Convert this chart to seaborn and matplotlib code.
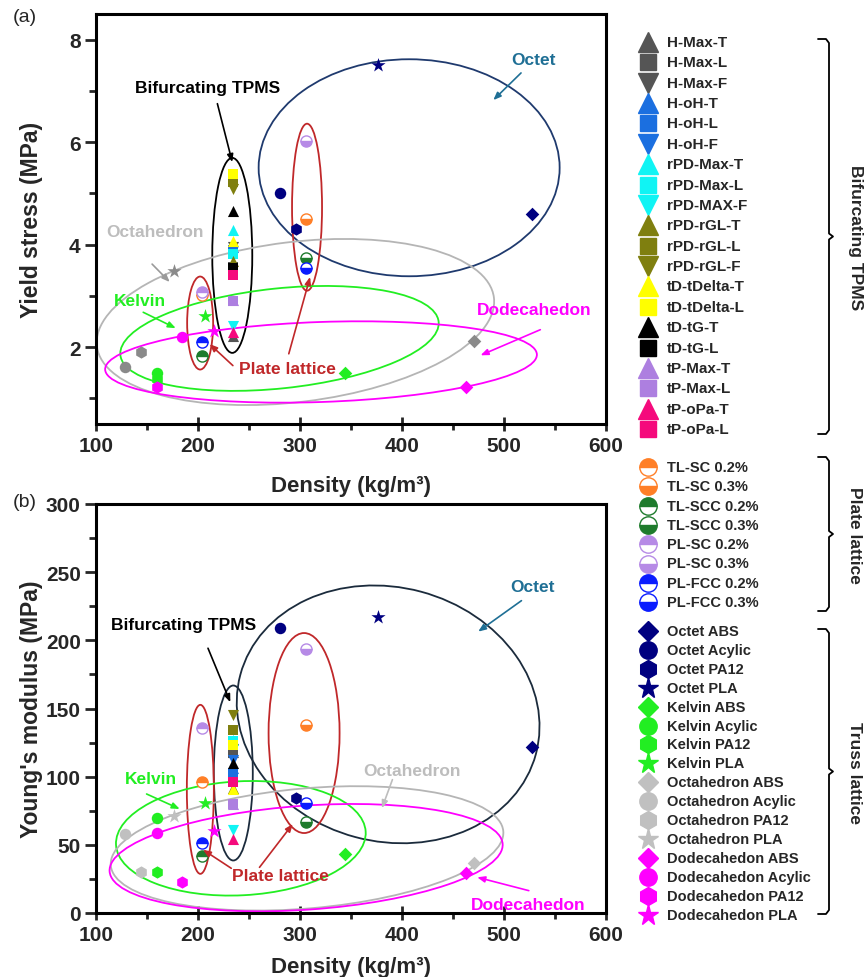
import matplotlib
matplotlib.use("Agg")
import matplotlib.pyplot as plt
import matplotlib.transforms as mtransforms
from matplotlib.patches import Ellipse
from matplotlib.ticker import MultipleLocator
import seaborn as sns

# ---------------- data ----------------
TPMS_LABELS = ["H-Max-T", "H-Max-L", "H-Max-F", "H-oH-T", "H-oH-L", "H-oH-F",
               "rPD-Max-T", "rPD-Max-L", "rPD-MAX-F", "rPD-rGL-T", "rPD-rGL-L",
               "rPD-rGL-F", "tD-tDelta-T", "tD-tDelta-L", "tD-tG-T", "tD-tG-L",
               "tP-Max-T", "tP-Max-L", "tP-oPa-T", "tP-oPa-L"]
TPMS_DENSITY = [234, 234, 234, 234, 234, 234, 234, 234, 234, 234,
                234, 234, 234, 234, 234, 234, 234, 234, 234, 234]
TPMS_YIELD = [2.22, 3.56, 3.95, 3.95, 3.90, 3.87, 4.29, 3.82, 2.41, 3.69,
              5.22, 5.09, 4.08, 5.38, 4.66, 3.54, 2.91, 2.90, 2.29, 3.40]
TPMS_MODULUS = [118, 117, 120, 106, 103, 112, 127, 126, 61, 92,
                134, 145, 91, 123, 110, 80, 80, 80, 54, 96]

PLATE_LABELS = ["TL-SC 0.2%", "TL-SC 0.3%", "TL-SCC 0.2%", "TL-SCC 0.3%",
                "PL-SC 0.2%", "PL-SC 0.3%", "PL-FCC 0.2%", "PL-FCC 0.3%"]
PLATE_DENSITY = [204, 306, 204, 306, 204, 306, 204, 306]
PLATE_YIELD = [3.01, 4.50, 1.82, 3.74, 3.07, 6.03, 2.10, 3.54]
PLATE_MODULUS = [96, 138, 42, 67, 136, 194, 51, 81]

TRUSS_LABELS = ["Octet ABS", "Octet Acylic", "Octet PA12", "Octet PLA",
                "Kelvin ABS", "Kelvin Acylic", "Kelvin PA12", "Kelvin PLA",
                "Octahedron ABS", "Octahedron Acylic", "Octahedron PA12", "Octahedron PLA",
                "Dodecahedon ABS", "Dodecahedon Acylic", "Dodecahedon PA12", "Dodecahedon PLA"]
TRUSS_DENSITY_YS = [527, 280, 296, 376, 344, 160, 160, 207,
                    471, 128, 144, 176, 463, 184, 160, 216]
TRUSS_YIELD = [4.60, 5.00, 4.30, 7.50, 1.50, 1.50, 1.38, 2.60,
               2.11, 1.61, 1.90, 3.49, 1.22, 2.19, 1.22, 2.32]
TRUSS_DENSITY_E = [527, 280, 296, 376, 344, 160, 160, 207,
                   471, 128, 144, 176, 463, 160, 184, 216]
TRUSS_MODULUS = [122, 209, 84, 217, 43, 70, 30, 81,
                 37, 58, 30, 71, 29, 59, 23, 60]

# ---------------- styles ----------------
GREY = "#555555"
BLUE = "#1b6fe0"
CYAN = "#10f4f4"
OLIVE = "#7f7f0f"
YELLOW = "#ffff00"
PURPLE = "#ad7fe0"
PINK = "#f50a7c"
TPMS_COLORS = [GREY, GREY, GREY, BLUE, BLUE, BLUE, CYAN, CYAN, CYAN, OLIVE,
               OLIVE, OLIVE, YELLOW, YELLOW, "black", "black", PURPLE, PURPLE, PINK, PINK]
TPMS_MARKERS = ["^", "s", "v", "^", "s", "v", "^", "s", "v", "^",
                "s", "v", "^", "s", "^", "s", "^", "s", "^", "s"]

PLATE_COLORS = ["#ff7f27", "#ff7f27", "#1e7b2c", "#1e7b2c",
                "#b68ae6", "#b68ae6", "#0a1cff", "#0a1cff"]
PLATE_FILL = ["top", "bottom", "top", "bottom", "top", "bottom", "top", "bottom"]

NAVY = "#000080"
LIME = "#22ee22"
LIGHT = "#c0c0c0"
MAG = "#ff00ff"
TRUSS_COLORS = [NAVY] * 4 + [LIME] * 4 + [LIGHT] * 4 + [MAG] * 4
TRUSS_MARKERS = ["D", "o", "h", "*"] * 4
MARKER_AREA = {"^": 64, "v": 64, "s": 52, "D": 48, "o": 68, "h": 78, "*": 115}

RED = "#c0282a"
TEAL = "#1f6f95"
TEXT_GREY = "#bdbdbd"

# ellipses: centre in data units, width/height in pixels, angle in degrees
RINGS_A = [(407.0, 5.50, 301, 217, 0, "#1f3a6e"),
           (233.6, 3.79, 40, 195, 0, "black"),
           (306.9, 4.73, 30, 167, 0, RED),
           (202.1, 2.47, 26, 93, 0, RED),
           (295.5, 2.49, 400, 160, 7, "#b5b5b5"),
           (279.9, 2.17, 320, 100, 6, LIME),
           (320.6, 1.71, 432, 80, 2, MAG)]
RINGS_B = [(386.4, 145.7, 306, 254, -15, "#1b2b3c"),
           (234.6, 102.7, 39, 175, 0, "#1b2b3c"),
           (304.0, 132.0, 71, 200, 0, RED),
           (202.3, 90.7, 27, 169, 0, RED),
           (242.0, 54.8, 250, 114, 3, LIME),
           (306.9, 47.4, 394, 120, 5, "#b5b5b5"),
           (306.0, 40.6, 394, 104, 4, MAG)]

NOTES_A = [("Octet", 529, 7.62, TEAL), ("Bifurcating TPMS", 209, 7.07, "black"),
           ("Octahedron", 158, 4.26, TEXT_GREY), ("Kelvin", 143, 2.91, LIME),
           ("Dodecahedon", 530, 2.73, MAG), ("Plate lattice", 288, 1.59, RED)]
ARROWS_A = [((516.7, 7.35), (489.5, 6.82), TEAL), ((219, 6.75), (233.6, 5.61), "black"),
            ((155, 3.62), (172.3, 3.27), "#9a9a9a"), ((146.3, 2.68), (178.2, 2.37), LIME),
            ((535.6, 2.34), (477, 1.84), MAG), ((234.2, 1.64), (211.4, 2.06), RED),
            ((289, 1.87), (309.9, 3.37), RED)]
NOTES_B = [("Octet", 527.5, 239.3, TEAL), ("Bifurcating TPMS", 186, 211.5, "black"),
           ("Octahedron", 410, 104.4, TEXT_GREY), ("Kelvin", 154, 98.3, LIME),
           ("Plate lattice", 280.5, 27.4, RED), ("Dodecahedon", 523.6, 6.1, MAG)]
ARROWS_B = [((517.1, 229.1), (474.7, 206.4), TEAL), ((209.8, 194.2), (231.7, 154.6), "black"),
            ((390.6, 97.8), (380.3, 76.8), TEXT_GREY), ((149.6, 87.3), (182.1, 76.3), LIME),
            ((232.6, 32.8), (204.9, 46.4), RED), ((260.3, 33.5), (292.9, 65.3), RED),
            ((524.3, 16.4), (473.7, 26.2), MAG)]

DPI = 100
sns.set_style("ticks")
plt.rcParams["font.family"] = ["Liberation Sans", "DejaVu Sans"]
plt.rcParams["font.weight"] = "bold"
plt.rcParams["axes.labelweight"] = "bold"

fig = plt.figure(figsize=(8.64, 9.78), dpi=DPI)
ax_a = fig.add_axes([96 / 864, 1 - 425 / 978, 510 / 864, 410 / 978])
ax_b = fig.add_axes([96 / 864, 1 - 914 / 978, 510 / 864, 409 / 978])


def draw_rings(ax, rings):
    for cx, cy, w, h, ang, col in rings:
        tr = fig.dpi_scale_trans + mtransforms.ScaledTranslation(cx, cy, ax.transData)
        ax.add_patch(Ellipse((0, 0), w / DPI, h / DPI, angle=ang, transform=tr,
                             fill=False, ec=col, lw=1.3, zorder=2))


def draw_panel(ax, tpms_y, plate_y, truss_x, truss_y, octa_color):
    for x, y, c, m in zip(TPMS_DENSITY, tpms_y, TPMS_COLORS, TPMS_MARKERS):
        sns.scatterplot(x=[x], y=[y], color=c, marker=m, s=MARKER_AREA[m],
                        linewidth=0, ax=ax, legend=False, zorder=4)
    for x, y, c, fs in zip(PLATE_DENSITY, plate_y, PLATE_COLORS, PLATE_FILL):
        ax.plot([x], [y], ls="none", marker="o", ms=8, fillstyle=fs, mfc=c,
                mfcalt="white", mec=c, mew=1.0, zorder=5)
    for i, (x, y, c, m) in enumerate(zip(truss_x, truss_y, TRUSS_COLORS, TRUSS_MARKERS)):
        if 8 <= i < 12:
            c = octa_color
        sns.scatterplot(x=[x], y=[y], color=c, marker=m, s=MARKER_AREA[m],
                        linewidth=0, ax=ax, legend=False, zorder=4)


def draw_notes(ax, notes, arrows):
    for txt, x, y, col in notes:
        ax.text(x, y, txt, color=col, fontsize=12.5, fontweight="bold",
                ha="center", va="center", zorder=6)
    for tail, head, col in arrows:
        ax.annotate("", xy=head, xytext=tail, zorder=6,
                    arrowprops=dict(arrowstyle="-|>,head_length=0.45,head_width=0.18",
                                    color=col, lw=1.2, shrinkA=0, shrinkB=0))


def style_axes(ax, ymajor, yminor, ylim, ylabel, ylab_x, xlab_y):
    ax.set_xlim(100, 600)
    ax.set_ylim(*ylim)
    ax.xaxis.set_major_locator(MultipleLocator(100))
    ax.xaxis.set_minor_locator(MultipleLocator(50))
    ax.yaxis.set_major_locator(MultipleLocator(ymajor))
    ax.yaxis.set_minor_locator(MultipleLocator(yminor))
    for sp in ax.spines.values():
        sp.set_visible(True)
        sp.set_linewidth(2.2)
        sp.set_color("black")
    ax.tick_params(axis="x", which="major", direction="inout", length=10, width=2,
                   labelsize=15, pad=4)
    ax.tick_params(axis="x", which="minor", direction="out", length=4, width=2)
    ax.tick_params(axis="y", which="major", direction="out", length=8, width=2,
                   labelsize=15, pad=3)
    ax.tick_params(axis="y", which="minor", direction="out", length=5, width=2)
    for lab in ax.get_xticklabels() + ax.get_yticklabels():
        lab.set_fontweight("bold")
    ax.set_xlabel("Density (kg/m³)", fontsize=16, fontweight="bold")
    ax.set_ylabel(ylabel, fontsize=16.5, fontweight="bold")
    ax.xaxis.set_label_coords(0.5, xlab_y)
    ax.yaxis.set_label_coords(ylab_x, 0.5)


style_axes(ax_a, 2, 1, (0.5, 8.5), "Yield stress (MPa)", -0.104, -0.125)
style_axes(ax_b, 50, 25, (0, 300), "Young's modulus (MPa)", -0.104, -0.105)

draw_rings(ax_a, RINGS_A)
draw_rings(ax_b, RINGS_B)
draw_panel(ax_a, TPMS_YIELD, PLATE_YIELD, TRUSS_DENSITY_YS, TRUSS_YIELD, "#8a8a8a")
draw_panel(ax_b, TPMS_MODULUS, PLATE_MODULUS, TRUSS_DENSITY_E, TRUSS_MODULUS, LIGHT)
draw_notes(ax_a, NOTES_A, ARROWS_A)
draw_notes(ax_b, NOTES_B, ARROWS_B)

fig.text(25 / 864, 1 - 17 / 978, "(a)", fontsize=14, fontweight="normal", ha="center", va="center")
fig.text(25 / 864, 1 - 503 / 978, "(b)", fontsize=14, fontweight="normal", ha="center", va="center")

# ---------------- legend column with braces (pixel overlay) ----------------
lax = fig.add_axes([0, 0, 1, 1], facecolor="none")
lax.set_xlim(0, 864)
lax.set_ylim(978, 0)
lax.axis("off")

LEG_MS = {"^": 14, "v": 14, "s": 11.5, "D": 10.5, "o": 12.5, "h": 13, "*": 15.5}


def legend_rows(labels, colors, markers, fills, y0, step, size):
    for i, (lab, c, m, fs) in enumerate(zip(labels, colors, markers, fills)):
        y = y0 + i * step
        lax.plot([648], [y], ls="none", marker=m, ms=LEG_MS[m], fillstyle=fs, mfc=c,
                 mfcalt="white", mec=c, mew=1.0)
        lax.text(667, y, lab, fontsize=size, fontweight="bold", va="center", ha="left")


def brace(top, bottom, label):
    mid = (top + bottom) / 2
    xs = [818, 826, 829, 829, 833, 829, 829, 826, 818]
    ys = [top, top, top + 4, mid - 3, mid, mid + 3, bottom - 4, bottom, bottom]
    lax.plot(xs, ys, color="black", lw=1.3)
    lax.text(855, mid, label, rotation=-90, fontsize=12.5, fontweight="bold",
             ha="center", va="center")


legend_rows(TPMS_LABELS, TPMS_COLORS, TPMS_MARKERS, ["full"] * 20, 43, 20.37, 11)
legend_rows(PLATE_LABELS, PLATE_COLORS, ["o"] * 8, PLATE_FILL, 468, 19.3, 10.5)
legend_rows(TRUSS_LABELS, TRUSS_COLORS, TRUSS_MARKERS, ["full"] * 16, 632, 18.9, 10.5)
brace(40, 435, "Bifurcating TPMS")
brace(458, 612, "Plate lattice")
brace(630, 915, "Truss lattice")

fig.savefig("out.png", dpi=DPI)
